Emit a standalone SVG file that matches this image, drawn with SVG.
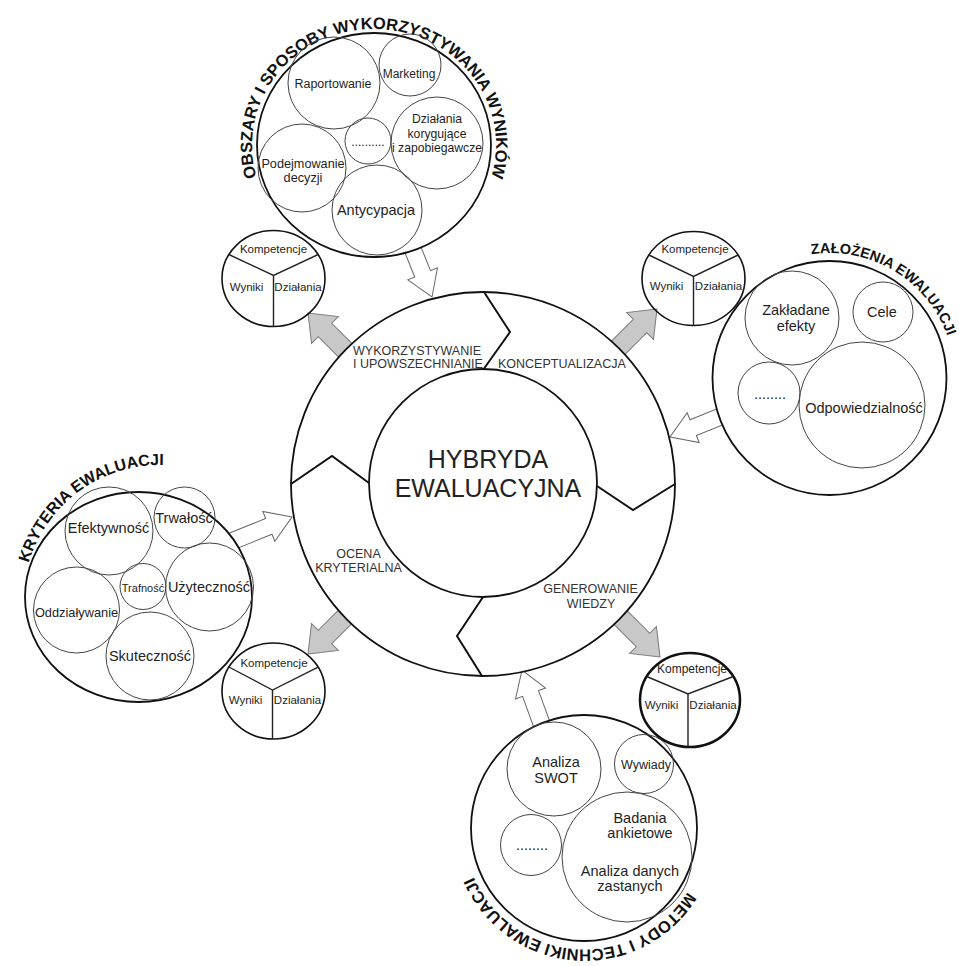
<svg xmlns="http://www.w3.org/2000/svg" width="959" height="966" viewBox="0 0 959 966">
<style>
text{font-family:"Liberation Sans",Arial,sans-serif;fill:#1e1e1e}
.outer{fill:#fff;stroke:#111;stroke-width:1.8}
.inner{fill:none;stroke:#444;stroke-width:1}
.zig{fill:none;stroke:#111;stroke-width:2;stroke-linejoin:miter}
.small{fill:none;stroke:#111;stroke-width:1.6}
.small4{fill:none;stroke:#111;stroke-width:2.5}
.y{stroke:#222;stroke-width:1.4;fill:none}
.garrow{fill:#c8c8c8;stroke:#7a7a7a;stroke-width:1}
.warrow{fill:#fff;stroke:#666;stroke-width:1}
.ring{font-size:12.5px;fill:#333}
.title{font-size:16.5px;font-weight:bold;fill:#111}
.t{text-anchor:middle}
.dots{fill:#222}
.s{font-size:11.5px;text-anchor:middle}
.big{font-size:25px;text-anchor:middle;fill:#222}
</style>
<defs>
<polygon id="ga" class="garrow" points="0,0 -24,-19 -24,-9.5 -80,-9.5 -80,9.5 -24,9.5 -24,19"/>
<polygon id="wa" class="warrow" points="0,0 -25,-16 -25,-8.5 -72,-8.5 -72,8.5 -25,8.5 -25,16"/>
<path id="p-top" d="M 268.34 203 A 122 116 0 1 1 479.66 203" fill="none"/>
<path id="p-right" d="M 712.8 333.2 A 125 125 0 1 1 923.84 460.01" fill="none"/>
<path id="p-left" d="M 64.83 700.55 A 137 137 0 1 1 283.13 541.94" fill="none"/>
<path id="p-bottom" d="M 693.25 775.46 A 121 121 0 1 1 484.19 760.84" fill="none"/>
</defs>

<g id="connectors">
<use href="#ga" transform="translate(308,313) rotate(-135)"/>
<use href="#ga" transform="translate(657,309) rotate(-45)"/>
<use href="#ga" transform="translate(308,654) rotate(135)"/>
<use href="#ga" transform="translate(660,657) rotate(45)"/>
<use href="#wa" transform="translate(432,297) rotate(68)"/>
<use href="#wa" transform="translate(670,437) rotate(158)"/>
<use href="#wa" transform="translate(292,517) rotate(-22)"/>
<use href="#wa" transform="translate(522,670) rotate(-110)"/>
</g>

<g id="hybryda">
<circle class="outer" cx="483" cy="484" r="192" stroke-width="2"/>
<polyline class="zig" points="484,292 510,332 483,370"/>
<polyline class="zig" points="597,486 633,510 675,484"/>
<polyline class="zig" points="483,597 457,636 482,676"/>
<polyline class="zig" points="291,484 332,456 369,483"/>
<circle cx="483" cy="483" r="114" fill="none" stroke="#111" stroke-width="1.8"/>
<text class="big" x="488" y="468">HYBRYDA</text>
<text class="big" x="488" y="497">EWALUACYJNA</text>
<text class="ring" x="353" y="355">WYKORZYSTYWANIE</text>
<text class="ring" x="353" y="368">I UPOWSZECHNIANIE</text>
<text class="ring" x="498" y="368">KONCEPTUALIZACJA</text>
<text class="ring t" x="358.5" y="558">OCENA</text>
<text class="ring t" x="358.5" y="572">KRYTERIALNA</text>
<text class="ring t" x="590.5" y="593">GENEROWANIE</text>
<text class="ring t" x="591" y="608">WIEDZY</text>
</g>

<g id="obszary">
<ellipse class="outer" cx="374" cy="145" rx="117" ry="112"/>
<text class="title"><textPath href="#p-top" startOffset="50%" text-anchor="middle">OBSZARY I SPOSOBY WYKORZYSTYWANIA WYNIKÓW</textPath></text>
<circle class="inner" cx="334" cy="83" r="46"/>
<text class="t" x="333" y="88" font-size="12.5">Raportowanie</text>
<circle class="inner" cx="410" cy="65" r="31"/>
<text class="t" x="409" y="77.5" font-size="12">Marketing</text>
<circle class="inner" cx="437" cy="143" r="46"/>
<text class="t" x="437" y="123" font-size="12.2">Działania</text>
<text class="t" x="437" y="137.5" font-size="12.2">korygujące</text>
<text class="t" x="437" y="151.5" font-size="12.2">i zapobiegawcze</text>
<circle class="inner" cx="368" cy="141" r="23"/>
<text class="t dots" x="368" y="146" font-size="12">..........</text>
<circle class="inner" cx="302" cy="168" r="44"/>
<text class="t" x="303" y="168" font-size="12.7">Podejmowanie</text>
<text class="t" x="303" y="181.5" font-size="12.7">decyzji</text>
<circle class="inner" cx="377" cy="210" r="45"/>
<text class="t" x="376" y="215" font-size="14.5">Antycypacja</text>
</g>

<g id="zalozenia">
<circle class="outer" cx="829.5" cy="378" r="117"/>
<text class="title"><textPath href="#p-right" startOffset="50%" text-anchor="middle" style="font-size:14.5px">ZAŁOŻENIA EWALUACJI</textPath></text>
<circle class="inner" cx="792" cy="318" r="47"/>
<text class="t" x="796" y="315" font-size="14.5">Zakładane</text>
<text class="t" x="796" y="331" font-size="14.5">efekty</text>
<circle class="inner" cx="883" cy="312" r="30"/>
<text class="t" x="882" y="317" font-size="14.5">Cele</text>
<circle class="inner" cx="769" cy="393" r="31"/>
<text class="t dots" x="770" y="399" font-size="14.5">........</text>
<circle class="inner" cx="862" cy="405" r="63"/>
<text class="t" x="864" y="413" font-size="14.5">Odpowiedzialność</text>
</g>

<g id="kryteria">
<ellipse class="outer" cx="138.5" cy="597" rx="113.5" ry="105"/>
<text class="title"><textPath href="#p-left" startOffset="50%" text-anchor="middle" style="font-size:16px">KRYTERIA EWALUACJI</textPath></text>
<circle class="inner" cx="109" cy="531" r="44"/>
<text class="t" x="108.5" y="533" font-size="14.5">Efektywność</text>
<circle class="inner" cx="184.5" cy="517.5" r="30.5"/>
<text class="t" x="184" y="523" font-size="14.5">Trwałość</text>
<circle class="inner" cx="209.5" cy="587" r="44"/>
<text class="t" x="209" y="592" font-size="14.5">Użyteczność</text>
<circle class="inner" cx="143" cy="586.5" r="23"/>
<text class="t" x="143" y="591.5" font-size="11">Trafność</text>
<circle class="inner" cx="76.5" cy="610" r="43"/>
<text class="t" x="76.5" y="617" font-size="12.8">Oddziaływanie</text>
<circle class="inner" cx="150" cy="656" r="44"/>
<text class="t" x="150" y="661" font-size="14.5">Skuteczność</text>
</g>

<g id="metody">
<circle class="outer" cx="584" cy="828" r="113"/>
<text class="title"><textPath href="#p-bottom" startOffset="50%" text-anchor="middle">METODY I TECHNIKI EWALUACJI</textPath></text>
<circle class="inner" cx="554" cy="769" r="47"/>
<text class="t" x="556" y="767" font-size="14.5">Analiza</text>
<text class="t" x="556" y="783" font-size="14.5">SWOT</text>
<circle class="inner" cx="644" cy="764" r="29.5"/>
<text class="t" x="646" y="768.5" font-size="12.5">Wywiady</text>
<circle class="inner" cx="531" cy="845" r="30.5"/>
<text class="t dots" x="532" y="850" font-size="14.5">........</text>
<circle class="inner" cx="627" cy="857" r="65"/>
<text class="t" x="640" y="822.5" font-size="14.5">Badania</text>
<text class="t" x="640" y="838" font-size="14.5">ankietowe</text>
<text class="t" x="630" y="875.5" font-size="14.5">Analiza danych</text>
<text class="t" x="630" y="891" font-size="14.5">zastanych</text>
</g>

<g id="kwd-1" transform="translate(273.5,278.5)">
<ellipse class="small" cx="0" cy="0" rx="51.5" ry="48"/>
<polyline class="y" points="-44.6,-24 0,-3 44.6,-24"/>
<line class="y" x1="0" y1="-3" x2="0" y2="48"/>
<text class="s" x="0" y="-25.5">Kompetencje</text>
<text class="s" x="-27" y="12.5">Wyniki</text>
<text class="s" x="24.5" y="12.5">Działania</text>
</g>
<g id="kwd-2" transform="translate(693.5,278.5)">
<ellipse class="small" cx="0" cy="0" rx="51.5" ry="47"/>
<polyline class="y" points="-44.6,-23.5 0,-2 44.6,-23.5"/>
<line class="y" x1="0" y1="-2" x2="0" y2="47"/>
<text class="s" x="1.5" y="-25.5">Kompetencje</text>
<text class="s" x="-27" y="11.5">Wyniki</text>
<text class="s" x="25" y="11.5">Działania</text>
</g>
<g id="kwd-3" transform="translate(273.5,691)">
<ellipse class="small" cx="0" cy="0" rx="51.5" ry="48"/>
<polyline class="y" points="-44.6,-24 -1,-1 44.6,-24"/>
<line class="y" x1="-1" y1="-1" x2="-1" y2="48"/>
<text class="s" x="0.5" y="-24">Kompetencje</text>
<text class="s" x="-28" y="13">Wyniki</text>
<text class="s" x="24" y="13">Działania</text>
</g>
<g id="kwd-4" transform="translate(690,700)">
<ellipse class="small4" cx="0" cy="0" rx="50" ry="47"/>
<polyline class="y" points="-43.3,-23.5 -2,-6 43.3,-23.5"/>
<line class="y" x1="-2" y1="-6" x2="-2" y2="47"/>
<text class="s" x="2" y="-27" style="font-size:12px">Kompetencje</text>
<text class="s" x="-28.5" y="9">Wyniki</text>
<text class="s" x="23" y="9">Działania</text>
</g>
</svg>
